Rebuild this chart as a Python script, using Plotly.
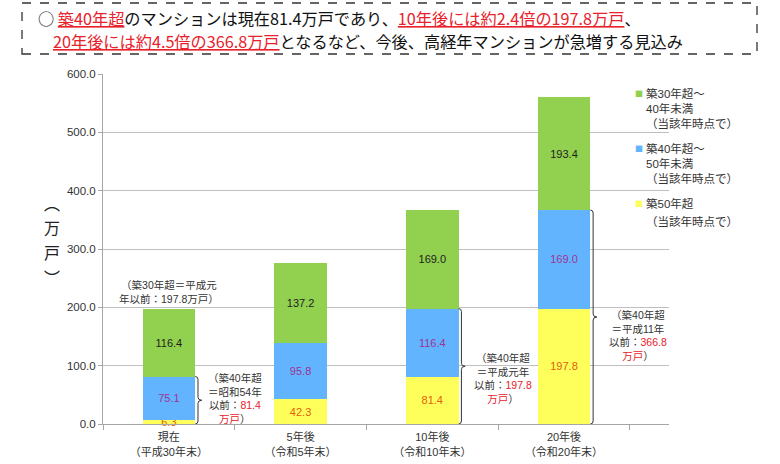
import plotly.graph_objects as go

# ---------------- data ----------------
categories = ["現在<br>（平成30年末）", "5年後<br>（令和5年末）",
              "10年後<br>（令和10年末）", "20年後<br>（令和20年末）"]
over50 = [6.3, 42.3, 81.4, 197.8]          # 築50年超
age40_50 = [75.1, 95.8, 116.4, 169.0]      # 築40年超～50年未満
age30_40 = [116.4, 137.2, 169.0, 193.4]    # 築30年超～40年未満
y_ticks = [0, 100, 200, 300, 400, 500, 600]

note_idx = [0, 2, 3]
note_era = ["昭和54年", "平成元年", "平成11年"]

# ---------------- layout helpers ----------------
W, H = 780, 464
L, R, T, B = 103, 669, 74, 424
def px2x(px):
    return (px - L) / (R - L)
def px2y(py):
    return (B - py) / (B - T)

NUM_FONT = "Liberation Sans, Noto Sans CJK JP, sans-serif"
JP_FONT = "Noto Sans CJK JP, sans-serif"
RED = "#E8212B"

C_GREEN = "#92D050"
C_BLUE = "#63B4FF"
C_YELLOW = "#FFFF5C"

fig = go.Figure()
series = [
    ("築50年超", over50, C_YELLOW, "#E2600A"),
    ("築40年超～50年未満", age40_50, C_BLUE, "#9B3592"),
    ("築30年超～40年未満", age30_40, C_GREEN, "#1E1E1E"),
]
for name, vals, col, tcol in series:
    fig.add_trace(go.Bar(
        x=categories, y=vals, name=name,
        marker=dict(color=col, line=dict(width=0)),
        text=[f"{v:.1f}" for v in vals],
        textposition="inside", insidetextanchor="middle", textangle=0,
        textfont=dict(family=NUM_FONT, size=11, color=tcol),
        cliponaxis=False, showlegend=False,
    ))

shapes = []
annotations = []

# title box
shapes.append(dict(type="rect", xref="paper", yref="paper",
                   x0=px2x(22), x1=px2x(757), y0=px2y(54), y1=px2y(3),
                   line=dict(color="#333333", width=1.3, dash="dash")))
t1 = ("○ <span style='color:%s'><u>築40年超</u></span>のマンションは現在81.4万戸であり、"
      "<span style='color:%s'><u>10年後には約2.4倍の197.8万戸</u></span>、") % (RED, RED)
t2 = ("<span style='color:%s'><u>20年後には約4.5倍の366.8万戸</u></span>"
      "となるなど、今後、高経年マンションが急増する見込み") % RED
annotations.append(dict(text=t1, xref="paper", yref="paper", x=px2x(36), y=px2y(18),
                        xanchor="left", yanchor="middle", showarrow=False,
                        font=dict(family=JP_FONT, size=16.2, color="#111111")))
annotations.append(dict(text=t2, xref="paper", yref="paper", x=px2x(51), y=px2y(41),
                        xanchor="left", yanchor="middle", showarrow=False,
                        font=dict(family=JP_FONT, size=16.2, color="#111111")))

# y-axis title (vertical)
for ch, py in zip(["︵", "万", "戸", "︶"], [203, 227, 252, 277]):
    annotations.append(dict(text=ch, xref="paper", yref="paper", x=px2x(52), y=px2y(py),
                            xanchor="center", yanchor="middle", showarrow=False,
                            font=dict(family=JP_FONT, size=16, color="#222222")))

# legend (custom)
leg = [
    (C_GREEN, 93, "築30年超～<br>40年未満<br>（当該年時点で）", 108.5),
    (C_BLUE, 148, "築40年超～<br>50年未満<br>（当該年時点で）", 163.5),
]
for col, sy, txt, cy in leg:
    annotations.append(dict(text="■", xref="paper", yref="paper", x=px2x(639), y=px2y(sy),
                            xanchor="center", yanchor="middle", showarrow=False,
                            font=dict(family=JP_FONT, size=8, color=col)))
    annotations.append(dict(text=txt, xref="paper", yref="paper", x=px2x(644), y=px2y(cy),
                            xanchor="left", yanchor="middle", showarrow=False, align="left",
                            font=dict(family=NUM_FONT, size=11.5, color="#333333")))
annotations.append(dict(text="■", xref="paper", yref="paper", x=px2x(639), y=px2y(203),
                        xanchor="center", yanchor="middle", showarrow=False,
                        font=dict(family=JP_FONT, size=8, color=C_YELLOW)))
annotations.append(dict(text="築50年超", xref="paper", yref="paper", x=px2x(644), y=px2y(203),
                        xanchor="left", yanchor="middle", showarrow=False,
                        font=dict(family=NUM_FONT, size=11.5, color="#333333")))
annotations.append(dict(text="（当該年時点で）", xref="paper", yref="paper", x=px2x(644), y=px2y(221),
                        xanchor="left", yanchor="middle", showarrow=False,
                        font=dict(family=NUM_FONT, size=11.5, color="#333333")))

# top note for first bar
total0 = over50[0] + age40_50[0] + age30_40[0]
annotations.append(dict(text=f"（築30年超＝平成元<br>年以前：{total0:.1f}万戸）",
                        x=0, y=total0, xref="x", yref="y", xanchor="center", yanchor="bottom",
                        yshift=2, showarrow=False,
                        font=dict(family=NUM_FONT, size=10.5, color="#333333")))

# brackets + notes
half_bar = 0.2
px_per_cat = (R - L) / len(categories)
px_per_val = (B - T) / 600.0
dx = 3 / px_per_cat
hook = 3 / px_per_cat
tip = 4 / px_per_cat
e = 3 / px_per_val
note_xshift = [66, 71, 74]
note_yshift = [2, -12, -18]
for k, i in enumerate(note_idx):
    top = over50[i] + age40_50[i]
    mid = top / 2.0
    xb = i + half_bar + dx
    xl = xb - hook
    xr = xb + tip
    path = (f"M {xl},{top} Q {xb},{top} {xb},{top - e} "
            f"L {xb},{mid + e} Q {xb},{mid} {xr},{mid} "
            f"Q {xb},{mid} {xb},{mid - e} "
            f"L {xb},{e} Q {xb},0 {xl},0")
    shapes.append(dict(type="path", xref="x", yref="y", path=path,
                       line=dict(color="#333333", width=1)))
    txt = (f"（築40年超<br>＝{note_era[k]}<br>以前：<span style='color:{RED}'>{top:.1f}</span>"
           f"<br><span style='color:{RED}'>万戸</span>）")
    annotations.append(dict(text=txt, x=i, y=mid, xref="x", yref="y",
                            xanchor="center", yanchor="middle",
                            xshift=note_xshift[k], yshift=note_yshift[k],
                            showarrow=False, align="center",
                            font=dict(family=NUM_FONT, size=10.5, color="#333333")))

fig.update_layout(
    template="none",
    width=W, height=H,
    margin=dict(l=L, r=W - R, t=T, b=H - B, pad=0),
    barmode="stack", bargap=0.6,
    paper_bgcolor="white", plot_bgcolor="white",
    font=dict(family=NUM_FONT, size=11, color="#333333"),
    uniformtext=dict(mode="show", minsize=11),
    showlegend=False,
    shapes=shapes, annotations=annotations,
    xaxis=dict(type="category", showline=True, linecolor="#A6A6A6", linewidth=1,
               ticks="outside", tickson="boundaries", ticklen=5, tickcolor="#A6A6A6",
               showgrid=False, automargin=False, ticklabelstandoff=3,
               tickfont=dict(family=NUM_FONT, size=11, color="#333333")),
    yaxis=dict(range=[0, 600], tickvals=y_ticks, tickformat=".1f",
               showline=True, linecolor="#A6A6A6", linewidth=1,
               ticks="outside", ticklen=4, tickcolor="#A6A6A6",
               showgrid=True, gridcolor="#BFBFBF", gridwidth=1, zeroline=False,
               automargin=False,
               tickfont=dict(family=NUM_FONT, size=11.5, color="#333333")),
)

fig.write_html("out.html", config={"displayModeBar": False},
               post_script="document.body.style.margin='0';document.body.style.overflow='hidden';")
